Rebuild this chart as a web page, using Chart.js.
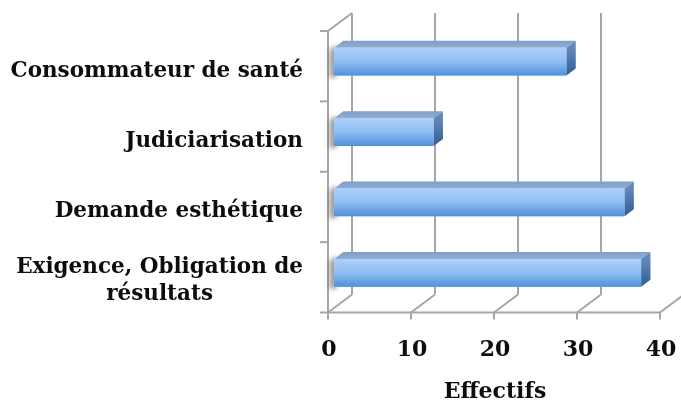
<!DOCTYPE html>
<html>
<head>
<meta charset="utf-8">
<script src="https://cdn.jsdelivr.net/npm/chart.js@4/dist/chart.umd.min.js"></script>
<style>
  html, body { margin: 0; padding: 0; background: #fff; }
</style>
</head>
<body>
<canvas id="chart" width="681" height="403"></canvas>
<script>
// data
const categories = [["Consommateur de santé"], ["Judiciarisation"], ["Demande esthétique"], ["Exigence, Obligation de", "résultats"]];
const effectifs = [28, 12, 35, 37];
const xTicks = [0, 10, 20, 30, 40];
const axisTitle = "Effectifs";

const FONT = "bold 21.5px 'DejaVu Serif'";
const GRID = "#a6a6a6";
const TEXT = "#0d0d0d";

// oblique 3d projection: full depth vector, bar sits between 25% and 64% of it
const DX = 24, DY = -18;
const BAR_START = 0.25, BAR_DEPTH = 0.39;
const fx = -DX * BAR_START, fy = -DY * BAR_START;          // front plane
const bx = DX * (1 - BAR_START), by = DY * (1 - BAR_START); // back wall

function line(ctx, x1, y1, x2, y2) {
  ctx.beginPath();
  ctx.moveTo(x1, y1);
  ctx.lineTo(x2, y2);
  ctx.stroke();
}

function poly(ctx, pts, fill) {
  ctx.beginPath();
  ctx.moveTo(pts[0][0], pts[0][1]);
  for (let i = 1; i < pts.length; i++) ctx.lineTo(pts[i][0], pts[i][1]);
  ctx.closePath();
  ctx.fillStyle = fill;
  ctx.fill();
}

//walls, floor, ticks and labels
const walls = {
  id: "walls",
  beforeDatasetsDraw(chart) {
    const { ctx, chartArea: a, scales: { x, y } } = chart;
    const x0 = x.getPixelForValue(0);
    ctx.save();
    ctx.strokeStyle = GRID;
    ctx.lineWidth = 2;

    xTicks.forEach((v) => {
      const px = x.getPixelForValue(v);
      line(ctx, px + bx, a.top + by, px + bx, a.bottom + by); // back wall
      line(ctx, px + fx, a.bottom + fy, px + bx, a.bottom + by); // floor
      line(ctx, px + fx, a.bottom + fy, px + fx, a.bottom + fy + 7); // tick
    });
    line(ctx, x0 + fx - 1, a.bottom + fy, x.getPixelForValue(40) + fx + 1, a.bottom + fy);

    // left wall
    line(ctx, x0 + fx, a.top + fy, x0 + fx, a.bottom + fy + 1);
    line(ctx, x0 + fx, a.top + fy, x0 + bx, a.top + by);
    for (let i = 0; i <= categories.length; i++) {
      const py = y.getPixelForValue(i - 0.5) + fy;
      line(ctx, x0 + fx - 8, py, x0 + fx, py);
    }

    // soft shadows of the bars on the left wall
    const meta = chart.getDatasetMeta(0);
    meta.data.forEach((bar) => {
      const { y: cy, base, height } = bar.getProps(["y", "base", "height"], true);
      ctx.save();
      ctx.shadowColor = "rgba(0,0,0,0.45)";
      ctx.shadowBlur = 5;
      ctx.shadowOffsetX = -4;
      ctx.shadowOffsetY = 2;
      poly(ctx, [[base, cy - height / 2], [base + 6, cy - height / 2 - 5], [base + 6, cy + height / 2], [base, cy + height / 2]], "#fff");
      ctx.restore();
    });

    ctx.restore();
  },
  afterDatasetsDraw(chart) {
    const { ctx, scales: { x, y } } = chart;
    const meta = chart.getDatasetMeta(0);
    const ox = DX * BAR_DEPTH, oy = DY * BAR_DEPTH;
    ctx.save();
    meta.data.forEach((bar) => {
      const { x: right, y: cy, base: left, height } = bar.getProps(["x", "y", "base", "height"], true);
      const t = cy - height / 2, b = cy + height / 2;

      const top = ctx.createLinearGradient(0, t + oy, 0, t);
      top.addColorStop(0, "#7f9ec6");
      top.addColorStop(1, "#90aed4");
      poly(ctx, [[left, t], [right, t], [right + ox, t + oy], [left + ox, t + oy]], top);

      const side = ctx.createLinearGradient(0, t, 0, b);
      side.addColorStop(0, "#6489b8");
      side.addColorStop(1, "#2e5d93");
      poly(ctx, [[right, t], [right + ox, t + oy], [right + ox, b + oy], [right, b]], side);

      const front = ctx.createLinearGradient(0, t, 0, b);
      front.addColorStop(0, "#aed0fb");
      front.addColorStop(0.5, "#8fbdf0");
      front.addColorStop(1, "#4f90da");
      poly(ctx, [[left, t], [right, t], [right, b], [left, b]], front);
    });

    ctx.fillStyle = TEXT;
    ctx.font = FONT;
    ctx.textBaseline = "alphabetic";

    // category labels on the front plane
    const xr = x.getPixelForValue(0) + fx - 25;
    categories.forEach((lines, i) => {
      const cy = y.getPixelForValue(i) + fy;
      const w = Math.max(...lines.map((s) => ctx.measureText(s).width));
      if (lines.length > 1) {
        ctx.textAlign = "center";
        ctx.fillText(lines[0], xr - w / 2, cy - 4.7);
        ctx.fillText(lines[1], xr - w / 2, cy + 22.6);
      } else {
        ctx.textAlign = "right";
        ctx.fillText(lines[0], xr, cy + 10.5);
      }
    });

    // value ticks
    ctx.font = "bold 22px 'DejaVu Serif'";
    ctx.textAlign = "center";
    xTicks.forEach((v) => {
      ctx.fillText(String(v), x.getPixelForValue(v) + fx + 1, 356);
    });

    // axis title
    ctx.fillText(axisTitle, (x.getPixelForValue(0) + x.getPixelForValue(40)) / 2 + fx + 1, 398);
    ctx.restore();
  },
};

const ctx = document.getElementById("chart").getContext("2d");
const myChart = new Chart(ctx, {
  type: "bar",
  data: {
    labels: categories,
    datasets: [
      {
        label: axisTitle,
        data: effectifs,
        backgroundColor: "#8fbdf0",
        borderWidth: 0,
        barPercentage: 0.395,
        categoryPercentage: 1,
      },
    ],
  },
  options: {
    indexAxis: "y",
    responsive: false,
    animation: false,
    layout: { padding: { top: 26.5, right: 15, left: 0, bottom: 0 } },
    plugins: { legend: { display: false }, tooltip: { enabled: false } },
    scales: {
      x: {
        min: 0,
        max: 40,
        afterFit: (scale) => {
          scale.height = 95;
        },
        grid: { display: false, drawTicks: false },
        border: { display: false },
        ticks: { display: false },
      },
      y: {
        afterFit: (scale) => {
          scale.width = 334;
        },
        grid: { display: false, drawTicks: false },
        border: { display: false },
        ticks: { display: false },
      },
    },
  },
  plugins: [walls],
});
</script>
</body>
</html>
